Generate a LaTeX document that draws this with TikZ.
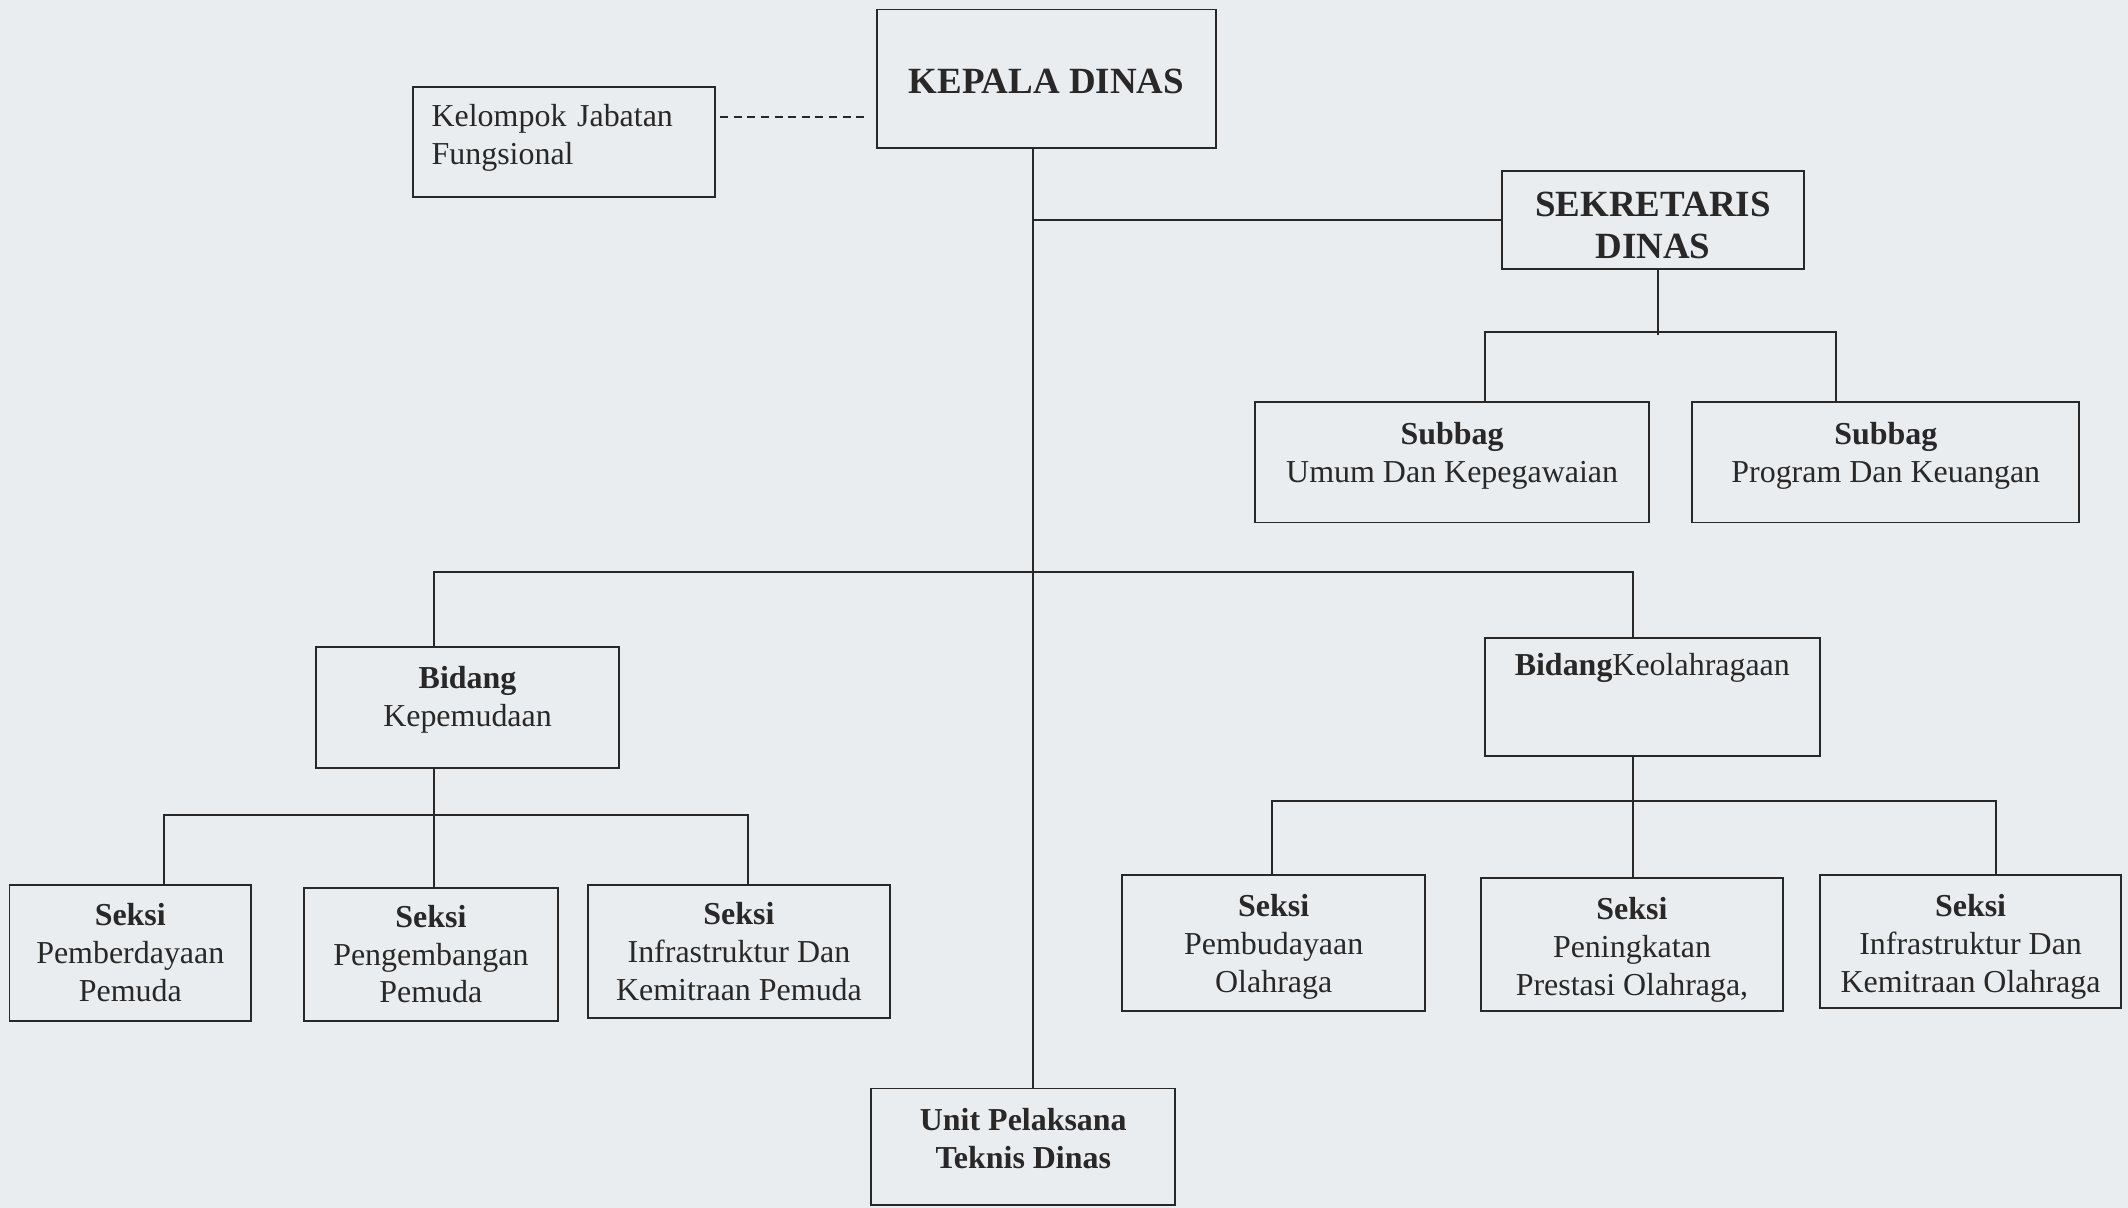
\documentclass[tikz,border=0pt]{standalone}
\usepackage{fontspec}
\setmainfont{Liberation Serif}
\definecolor{paper}{RGB}{233,237,240}
\definecolor{ink}{RGB}{40,40,40}
\tikzset{
  box/.style={draw=ink, line width=0.8pt, text=ink, align=center, inner sep=2pt,
    font=\fontsize{13.4}{15.9}\selectfont},
  headbox/.style={box, font=\fontsize{15.5}{17.6}\selectfont\bfseries},
  link/.style={draw=ink, line width=0.8pt}
}
\begin{document}
\begin{tikzpicture}[x=0.02cm,y=-0.02cm]
\fill[paper] (0,0) rectangle (1568,890);
\useasboundingbox (0,0) rectangle (1568,890);
\node[headbox, minimum width=5cm, minimum height=2.04cm, text height=12.8pt] (kepala) at (771,58) {KEPALA DINAS};
\node[box, align=left, text width=3.9cm, inner xsep=0.28cm, minimum height=1.62cm, text depth=22.2pt] (kelompok) at (415.5,104.5) {Kelompok Jabatan\\Fungsional};
\node[headbox, minimum width=4.44cm, minimum height=1.44cm, text height=32.7pt] (sekretaris) at (1218,162) {SEKRETARIS\\DINAS};
\node[box, minimum width=5.8cm, minimum height=1.78cm, text depth=8.5pt] (umum) at (1070,340.5) {\textbf{Subbag}\\Umum Dan Kepegawaian};
\node[box, minimum width=5.7cm, minimum height=1.78cm, text depth=8.5pt] (program) at (1389.5,340.5) {\textbf{Subbag}\\Program Dan Keuangan};
\node[box, minimum width=4.46cm, minimum height=1.78cm, text depth=9.7pt] (kepemudaan) at (344.5,521.5) {\textbf{Bidang}\\Kepemudaan};
\node[box, minimum width=4.94cm, inner ysep=4pt, text height=11.5pt, text depth=29.8pt] (olahraga) at (1217.5,513.5) {\textbf{Bidang}Keolahragaan};
\node[box, minimum width=3.56cm, minimum height=2cm] (pemberdayaan) at (96,702) {\textbf{Seksi}\\Pemberdayaan\\Pemuda};
\node[box, minimum width=3.74cm, minimum height=1.96cm] (pengembangan) at (317.5,703) {\textbf{Seksi}\\Pengembangan\\Pemuda};
\node[box, minimum width=4.46cm, minimum height=1.96cm] (infraPemuda) at (544.5,701) {\textbf{Seksi}\\Infrastruktur Dan\\Kemitraan Pemuda};
\node[box, minimum width=4.46cm, minimum height=2cm, text height=44.3pt] (pembudayaan) at (938.5,695) {\textbf{Seksi}\\Pembudayaan\\Olahraga};
\node[box, minimum width=4.46cm, minimum height=1.96cm, text height=45.5pt] (prestasi) at (1202.5,696) {\textbf{Seksi}\\Peningkatan\\Prestasi Olahraga,};
\node[box, minimum width=4.44cm, minimum height=1.96cm, text height=45.5pt] (infraOlahraga) at (1452,694) {\textbf{Seksi}\\Infrastruktur Dan\\Kemitraan Olahraga};
\node[box, font=\fontsize{13.4}{15.9}\selectfont\bfseries, minimum width=4.48cm, minimum height=1.72cm, text depth=6.8pt] (unit) at (754,845) {Unit Pelaksana\\Teknis Dinas};
\coordinate (dashrow) at (0,86);
\coordinate (spine) at (761,0);
\coordinate (js) at (1222,0);
\coordinate (ju) at (1094,0);
\coordinate (jp) at (1353,0);
\coordinate (jkp) at (320,0);
\coordinate (jko) at (1203,0);
\coordinate (j1) at (121,0);
\coordinate (j3) at (551,0);
\coordinate (j4) at (937,0);
\coordinate (j6) at (1471,0);
\draw[link, dash pattern=on 3.4pt off 2.3pt, shorten <=1.7pt, shorten >=3.4pt] (kelompok.east |- dashrow) -- (kepala.west |- dashrow);
\draw[link] (kepala.south -| spine) -- (unit.north -| spine);
\draw[link] (sekretaris.west) -- (sekretaris.west -| spine);
\draw[link] (sekretaris.south -| js) -- ++(0,48);
\draw[link] (umum.north -| ju) -- ++(0,-51) -| (program.north -| jp);
\draw[link] (kepemudaan.north -| jkp) -- ++(0,-55) -| (olahraga.north -| jko);
\draw[link] (kepemudaan.south -| jkp) -- (pengembangan.north -| jkp);
\draw[link] (pemberdayaan.north -| j1) -- ++(0,-51) -| (infraPemuda.north -| j3);
\draw[link] (olahraga.south -| jko) -- (prestasi.north -| jko);
\draw[link] (pembudayaan.north -| j4) -- ++(0,-54) -| (infraOlahraga.north -| j6);
\end{tikzpicture}
\end{document}
